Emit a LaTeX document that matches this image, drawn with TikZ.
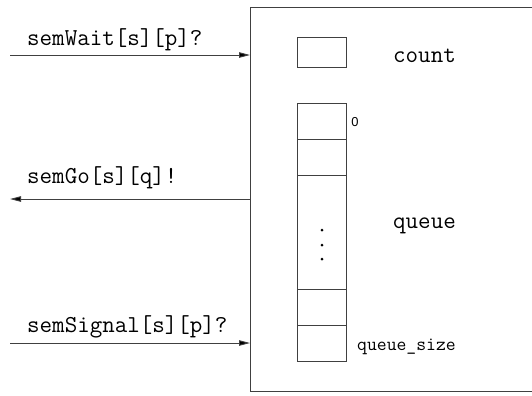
\documentclass[tikz,border=0pt]{standalone}
\usepackage{fontspec}
\newfontfamily\helv{Liberation Sans}
\usetikzlibrary{arrows.meta}
\begin{document}
\begin{tikzpicture}[x=1bp,y=-1bp,
  ln/.style={line width=0.9bp,draw=black!75},
  cell/.style={ln,draw,minimum width=49bp,minimum height=36bp,inner sep=0pt,anchor=north west},
  msg/.style={inner sep=0pt,anchor=base west,font=\ttfamily\fontsize{24.4}{24.4}\selectfont},
  lab/.style={inner sep=0pt,anchor=base west,font=\ttfamily\fontsize{24.4}{24.4}\selectfont},
  arr/.style={ln,-{Triangle[length=11bp,width=5.5bp,fill=black]}}]
\useasboundingbox (0,0) rectangle (532,395);
% process box (right side cut off)
\draw[ln] (532,7) -- (250,7) -- (250,391) -- (532,391);
\coordinate (inW) at (250,55);
\coordinate (outG) at (250,199);
\coordinate (inS) at (250,343);
\coordinate (srcW) at (10,55);
\coordinate (dstG) at (10,199);
\coordinate (srcS) at (10,343);
% count
\node[cell,minimum height=30bp] (cnt) at (297,37) {};
\node[lab] (cntl) at (393,62) {count};
% queue cells
\node[cell] (q0) at (297,103) {};
\node[cell] (q1) at (297,139) {};
\node[cell,minimum height=114bp] (qm) at (297,175) {};
\node[cell] (q2) at (297,289) {};
\node[cell] (q3) at (297,325) {};
\fill (322,230) circle (1.5bp) (322,245) circle (1.5bp) (322,259) circle (1.5bp);
\node[inner sep=0pt,font=\helv\fontsize{13}{13}\selectfont] (z) at (355,122) {0};
\node[inner sep=0pt,anchor=base west,font=\ttfamily\fontsize{19.2}{19.2}\selectfont] (qs) at (357,350) {queue\_size};
\node[lab] (ql) at (393,228) {queue};
% messages
\draw[arr] (srcW) -- (inW);
\draw[arr] (outG) -- (dstG);
\draw[arr] (srcS) -- (inS);
\node[msg] (mW) at (27,45) {semWait[s][p]?};
\node[msg] (mG) at (27,183) {semGo[s][q]!};
\node[msg] (mS) at (27,332) {semSignal[s][p]?};
\end{tikzpicture}
\end{document}
